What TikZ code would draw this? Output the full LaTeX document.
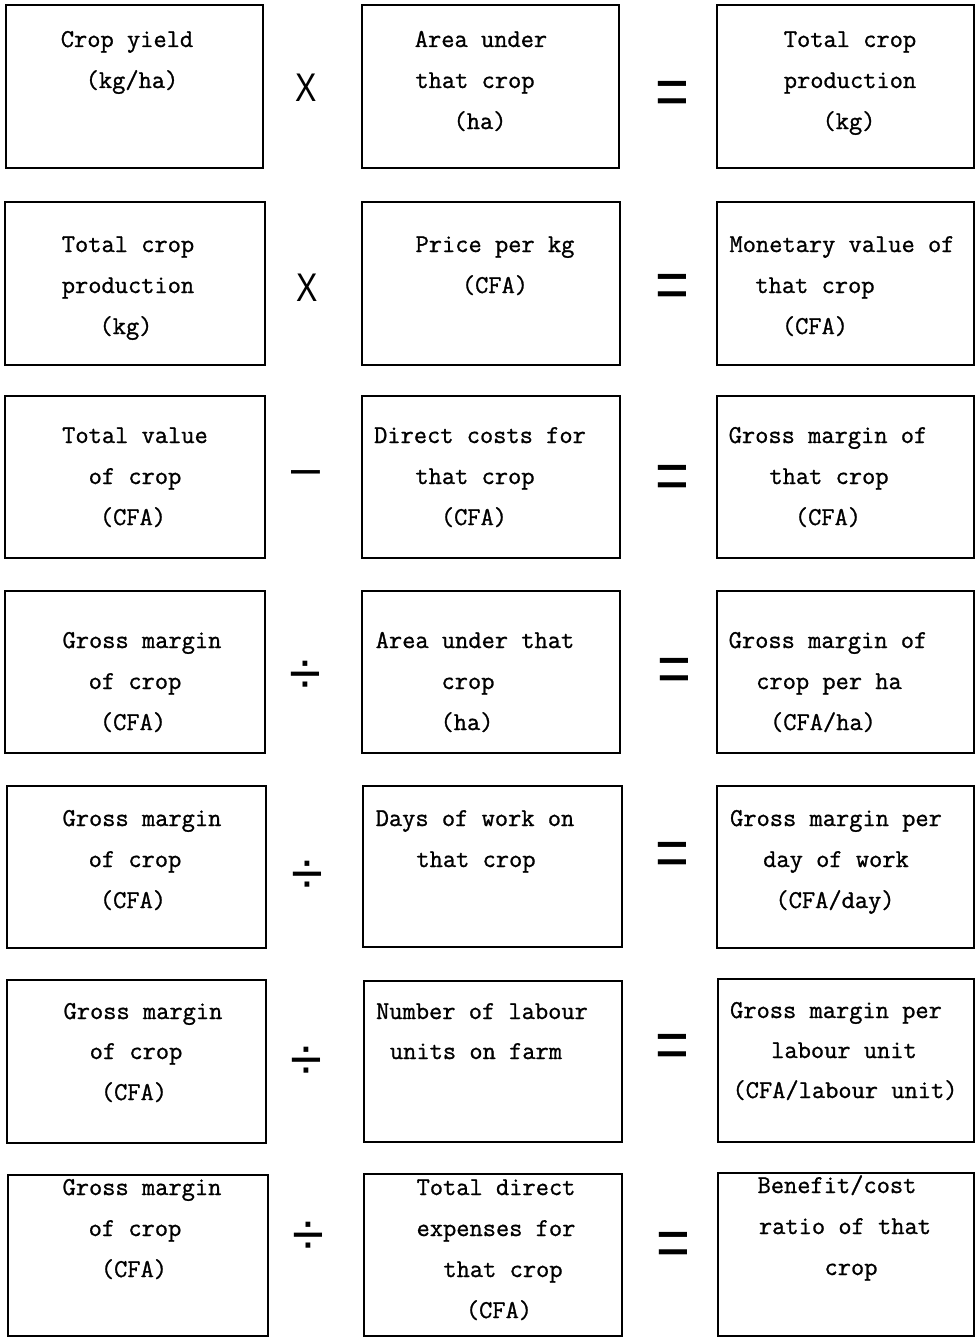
\documentclass[tikz,border=0pt]{standalone}
\usepackage{fontspec}
\newfontfamily\tw{Latin Modern Mono}[FakeBold=1]
\newfontfamily\opf{Liberation Sans}
\tikzset{
  boxst/.style={draw=black, line width=2.6pt, anchor=north west, inner sep=0pt, outer sep=0pt},
  txt/.style={anchor=base, inner sep=0pt, outer sep=0pt, font=\tw\fontsize{25.7pt}{30pt}\selectfont, text=black},
  opx/.style={anchor=center, inner sep=0pt, outer sep=0pt, font=\opf\fontsize{40pt}{44pt}\selectfont, xscale=0.8},
  opeq/.style={anchor=center, inner sep=0pt, outer sep=0pt, font=\opf\fontsize{58pt}{60pt}\selectfont, yscale=1.2, yshift=-4pt},
  opdiv/.style={anchor=center, inner sep=0pt, outer sep=0pt, font=\opf\fontsize{58pt}{60pt}\selectfont},
  opmin/.style={anchor=center, inner sep=0pt, outer sep=0pt, font=\opf\fontsize{52pt}{56pt}\selectfont, yshift=-6pt}
}
\newcommand\mybx[5]{\node[boxst, minimum width=#4pt, minimum height=#5pt] (#1) at (#2,#3) {};}
\newcommand\tl[4]{\node[txt] (#1) at (#2,#3) {#4};}
\begin{document}
\begin{tikzpicture}[x=1pt,y=-1pt]
\useasboundingbox (0,0) rectangle (976,1338);
\fill[white] (0,0) rectangle (976,1338);
% row 1
\mybx{b1l}{6}{5}{257}{163}
\mybx{b1m}{362}{5}{257}{163}
\mybx{b1r}{717}{5}{257}{163}
\tl{t1l1}{127}{47}{Crop yield}
\tl{t1l2}{132}{88}{(kg/ha)}
\tl{t1m1}{481}{47}{Area under}
\tl{t1m2}{475}{88}{that crop}
\tl{t1m3}{480}{129}{(ha)}
\tl{t1r1}{850}{47}{Total crop}
\tl{t1r2}{850}{88}{production}
\tl{t1r3}{849}{129}{(kg)}
\node[opx] (o1a) at (306,88) {X};
\node[opeq] (o1b) at (672,94) {=};
% row 2
\mybx{b2l}{5}{202}{260}{163}
\mybx{b2m}{362}{202}{258}{163}
\mybx{b2r}{717}{202}{257}{163}
\tl{t2l1}{128}{252}{Total crop}
\tl{t2l2}{128}{293}{production}
\tl{t2l3}{126}{334}{(kg)}
\tl{t2m1}{495}{252}{Price per kg}
\tl{t2m2}{495}{293}{(CFA)}
\tl{t2r1}{842}{252}{Monetary value of}
\tl{t2r2}{815}{293}{that crop}
\tl{t2r3}{815}{334}{(CFA)}
\node[opx] (o2a) at (307,288) {X};
\node[opeq] (o2b) at (672,287) {=};
% row 3
\mybx{b3l}{5}{396}{260}{162}
\mybx{b3m}{362}{396}{258}{162}
\mybx{b3r}{717}{396}{257}{162}
\tl{t3l1}{135}{443}{Total value}
\tl{t3l2}{135}{484}{of crop}
\tl{t3l3}{133}{525}{(CFA)}
\tl{t3m1}{480}{443}{Direct costs for}
\tl{t3m2}{475}{484}{that crop}
\tl{t3m3}{474}{525}{(CFA)}
\tl{t3r1}{828}{443}{Gross margin of}
\tl{t3r2}{829}{484}{that crop}
\tl{t3r3}{828}{525}{(CFA)}
\node[opmin] (o3a) at (306,472) {–};
\node[opeq] (o3b) at (672,478) {=};
% row 4
\mybx{b4l}{5}{591}{260}{162}
\mybx{b4m}{362}{591}{258}{162}
\mybx{b4r}{717}{591}{257}{162}
\tl{t4l1}{142}{648}{Gross margin}
\tl{t4l2}{135}{689}{of crop}
\tl{t4l3}{133}{730}{(CFA)}
\tl{t4m1}{475}{648}{Area under that}
\tl{t4m2}{468}{689}{crop}
\tl{t4m3}{467}{730}{(ha)}
\tl{t4r1}{828}{648}{Gross margin of}
\tl{t4r2}{829}{689}{crop per ha}
\tl{t4r3}{823}{730}{(CFA/ha)}
\node[opdiv] (o4a) at (305,677) {÷};
\node[opeq] (o4b) at (674,671) {=};
% row 5
\mybx{b5l}{7}{786}{259}{162}
\mybx{b5m}{363}{786}{259}{161}
\mybx{b5r}{717}{786}{257}{162}
\tl{t5l1}{142}{826}{Gross margin}
\tl{t5l2}{135}{867}{of crop}
\tl{t5l3}{133}{908}{(CFA)}
\tl{t5m1}{475}{826}{Days of work on}
\tl{t5m2}{476}{867}{that crop}
\tl{t5r1}{836}{826}{Gross margin per}
\tl{t5r2}{836}{867}{day of work}
\tl{t5r3}{835}{908}{(CFA/day)}
\node[opdiv] (o5a) at (307,877) {÷};
\node[opeq] (o5b) at (672,855) {=};
% row 6
\mybx{b6l}{7}{980}{259}{163}
\mybx{b6m}{364}{981}{258}{161}
\mybx{b6r}{718}{979}{256}{163}
\tl{t6l1}{143}{1019}{Gross margin}
\tl{t6l2}{136}{1059}{of crop}
\tl{t6l3}{134}{1100}{(CFA)}
\tl{t6m1}{482}{1019}{Number of labour}
\tl{t6m2}{476}{1059}{units on farm}
\tl{t6r1}{836}{1018}{Gross margin per}
\tl{t6r2}{844}{1058}{labour unit}
\tl{t6r3}{845}{1098}{(CFA/labour unit)}
\node[opdiv] (o6a) at (306,1063) {÷};
\node[opeq] (o6b) at (672,1047) {=};
% row 7
\mybx{b7l}{8}{1175}{260}{161}
\mybx{b7m}{364}{1174}{258}{162}
\mybx{b7r}{718}{1173}{256}{163}
\tl{t7l1}{142}{1195}{Gross margin}
\tl{t7l2}{135}{1236}{of crop}
\tl{t7l3}{134}{1277}{(CFA)}
\tl{t7m1}{496}{1195}{Total direct}
\tl{t7m2}{496}{1236}{expenses for}
\tl{t7m3}{503}{1277}{that crop}
\tl{t7m4}{499}{1318}{(CFA)}
\tl{t7r1}{837}{1193}{Benefit/cost}
\tl{t7r2}{845}{1234}{ratio of that}
\tl{t7r3}{851}{1275}{crop}
\node[opdiv] (o7a) at (308,1238) {÷};
\node[opeq] (o7b) at (673,1245) {=};
\end{tikzpicture}
\end{document}
